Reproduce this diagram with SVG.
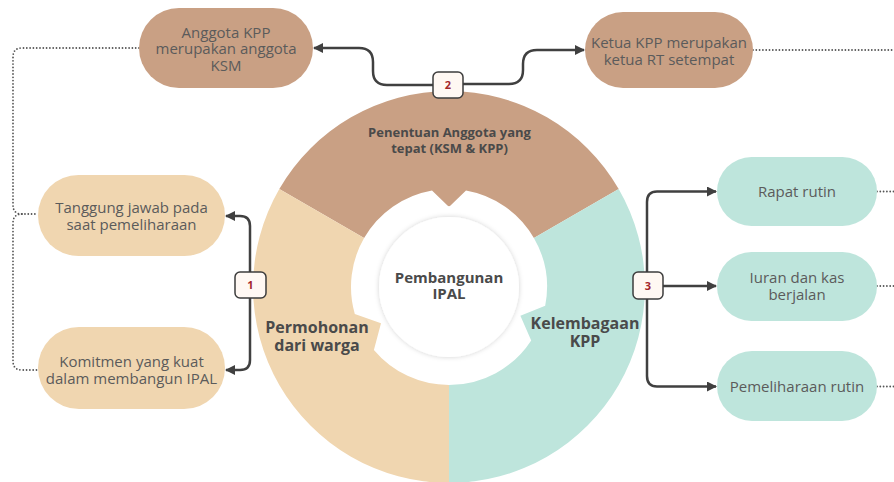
<svg xmlns="http://www.w3.org/2000/svg" width="894" height="482" viewBox="0 0 894 482">
  <defs>
    <style>
      .node-text { font-family: "Open Sans", "Liberation Sans", sans-serif; font-size: 15px; fill: #5b5b5b; text-anchor: middle; }
      .seg-text { font-family: "Open Sans", "Liberation Sans", sans-serif; font-weight: bold; fill: #4a4a4a; text-anchor: middle; }
      .badge-rect { fill: #fff8f3; stroke: #3d3d3d; stroke-width: 1.5; }
      .badge-text { font-family: "Open Sans", "Liberation Sans", sans-serif; font-weight: bold; font-size: 11px; fill: #a3262a; text-anchor: middle; }
      .conn { fill: none; stroke: #404040; stroke-width: 2.5; marker-end: url(#arrow); }
      .dots { fill: none; stroke: #555555; stroke-width: 1.8; stroke-dasharray: 0 3.3; stroke-linecap: round; }
      .brown { fill: #c9a084; }
      .beige { fill: #f0d6b0; }
      .teal { fill: #bee5dc; }
    </style>
    <marker id="arrow" viewBox="0 0 10 10" refX="9" refY="5" markerWidth="10" markerHeight="10" markerUnits="userSpaceOnUse" orient="auto">
      <path d="M0,0 L10,5 L0,10 Z" fill="#404040"/>
    </marker>
    <filter id="soft" x="-20%" y="-20%" width="140%" height="140%">
      <feDropShadow dx="0" dy="0" stdDeviation="2.5" flood-color="#000000" flood-opacity="0.18"/>
    </filter>
  </defs>

  <rect width="894" height="482" fill="#ffffff"/>

  <g id="dotted-connectors">
    <path class="dots" d="M139 48 H22 Q13 48 13 57 V205 Q13 214 22 214 H38"/>
    <path class="dots" d="M22 214 Q13 214 13 223 V361 Q13 370 22 370 H38"/>
    <path class="dots" d="M753 50 H894"/>
    <path class="dots" d="M877 191.5 H894"/>
    <path class="dots" d="M877 286 H894"/>
    <path class="dots" d="M877 386.5 H894"/>
  </g>

  <g id="ring">
    <g id="seg-penentuan">
      <path class="brown" d="M279.3 189 A196 196 0 0 1 618.7 189 L533.9 238 A98 98 0 0 0 466 190.5 L450.5 205.5 Q449 207 447.5 205.5 L432 190.5 A98 98 0 0 0 364.1 238 Z"/>
      <text class="seg-text" font-size="13" x="449.5" y="137">Penentuan Anggota yang</text>
      <text class="seg-text" font-size="13" x="449.5" y="153">tepat (KSM &amp; KPP)</text>
    </g>
    <g id="seg-kelembagaan">
      <path class="teal" d="M618.7 189 A196 196 0 0 1 449 483 L449 385 A98 98 0 0 0 531.2 340.4 L520.4 315.8 L545.2 305.7 A98 98 0 0 0 533.9 238 Z"/>
      <text class="seg-text" font-size="16" x="585" y="329">Kelembagaan</text>
      <text class="seg-text" font-size="16" x="585" y="347">KPP</text>
    </g>
    <g id="seg-permohonan">
      <path class="beige" d="M449 483 A196 196 0 0 1 279.3 189 L364.1 238 A98 98 0 0 0 354.8 314 L381 323.2 L373.9 350 A98 98 0 0 0 449 385 Z"/>
      <text class="seg-text" font-size="16" x="317" y="333">Permohonan</text>
      <text class="seg-text" font-size="16" x="317" y="351">dari warga</text>
    </g>
    <g id="center">
      <circle cx="449" cy="287" r="70" fill="#ffffff" filter="url(#soft)"/>
      <text class="seg-text" font-size="15" x="449" y="283">Pembangunan</text>
      <text class="seg-text" font-size="15" x="449" y="299">IPAL</text>
    </g>
  </g>

  <g id="connectors">
    <path class="conn" d="M250 272 V226 Q250 216 240 216 H226"/>
    <path class="conn" d="M250 298 V360 Q250 370 240 370 H226"/>
    <path class="conn" d="M433 85 H387 Q373 85 373 71 V62 Q373 48 359 48 H314"/>
    <path class="conn" d="M463 84 H509 Q523 84 523 70 V64 Q523 50 537 50 H584"/>
    <path class="conn" d="M647 272 V202 Q647 191.5 657 191.5 H716"/>
    <path class="conn" d="M663 286 H716"/>
    <path class="conn" d="M647 299 V376 Q647 386.5 657 386.5 H716"/>
  </g>

  <g id="badge-1">
    <rect class="badge-rect" x="235" y="272" width="31" height="26" rx="5"/>
    <text class="badge-text" x="250.5" y="289">1</text>
  </g>
  <g id="badge-2">
    <rect class="badge-rect" x="433" y="72" width="30" height="26" rx="5"/>
    <text class="badge-text" x="448" y="89">2</text>
  </g>
  <g id="badge-3">
    <rect class="badge-rect" x="633" y="272" width="30" height="27" rx="5"/>
    <text class="badge-text" x="648" y="289.5">3</text>
  </g>

  <g id="node-anggota">
    <rect class="brown" x="139" y="8" width="174" height="80" rx="40"/>
    <text class="node-text" x="226" y="37.5">Anggota KPP</text>
    <text class="node-text" x="226" y="54">merupakan anggota</text>
    <text class="node-text" x="226" y="70.5">KSM</text>
  </g>
  <g id="node-ketua">
    <rect class="brown" x="585" y="12" width="168" height="76" rx="38"/>
    <text class="node-text" x="669" y="48">Ketua KPP merupakan</text>
    <text class="node-text" x="669" y="64.5">ketua RT setempat</text>
  </g>
  <g id="node-tanggung">
    <rect class="beige" x="38" y="175" width="187" height="81" rx="40.5"/>
    <text class="node-text" x="131.5" y="213">Tanggung jawab pada</text>
    <text class="node-text" x="131.5" y="230">saat pemeliharaan</text>
  </g>
  <g id="node-komitmen">
    <rect class="beige" x="38" y="327" width="187" height="82" rx="41"/>
    <text class="node-text" x="131.5" y="367">Komitmen yang kuat</text>
    <text class="node-text" x="131.5" y="384">dalam membangun IPAL</text>
  </g>
  <g id="node-rapat">
    <rect class="teal" x="717" y="157" width="160" height="69" rx="34.5"/>
    <text class="node-text" x="797" y="196.5">Rapat rutin</text>
  </g>
  <g id="node-iuran">
    <rect class="teal" x="717" y="252" width="160" height="69" rx="34.5"/>
    <text class="node-text" x="797" y="282.5">Iuran dan kas</text>
    <text class="node-text" x="797" y="299.5">berjalan</text>
  </g>
  <g id="node-pemeliharaan">
    <rect class="teal" x="717" y="351" width="160" height="70" rx="35"/>
    <text class="node-text" x="797" y="392">Pemeliharaan rutin</text>
  </g>
</svg>
